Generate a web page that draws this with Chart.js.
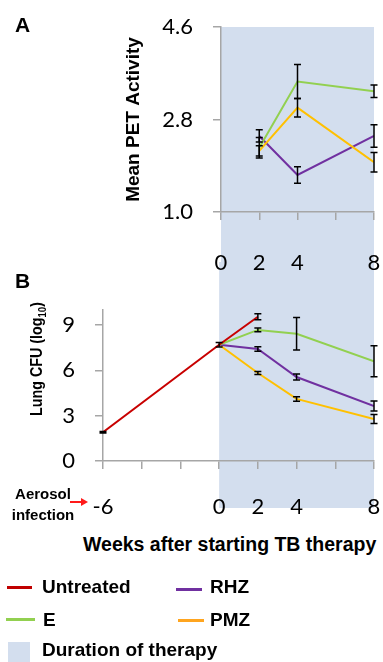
<!DOCTYPE html>
<html>
<head>
<meta charset="utf-8">
<script src="https://cdn.jsdelivr.net/npm/chart.js@4.4.0/dist/chart.umd.min.js"></script>
<style>
  body { margin:0; background:#fff; width:383px; height:662px; overflow:hidden; position:relative; font-family:"Liberation Sans", Arial, sans-serif; }
  canvas { position:absolute; left:0; }
  #chartA { top:0; z-index:2; }
  #chartB { top:262px; z-index:1; }
  .txt { position:absolute; font-weight:bold; color:#000; white-space:nowrap; line-height:1; z-index:3; }
  .key { position:absolute; height:3px; }
</style>
</head>
<body>
<canvas id="chartA" width="383" height="275" style="width:383px;height:275px"></canvas>
<canvas id="chartB" width="383" height="268" style="width:383px;height:268px"></canvas>

<div class="txt" style="left:15px;top:14px;font-size:21px">A</div>
<div class="txt" style="left:15px;top:270px;font-size:21px">B</div>

<div class="txt" style="left:3px;top:483px;width:80px;text-align:center;font-size:15px;line-height:21px">Aerosol<br>infection</div>
<svg style="position:absolute;left:70px;top:497px" width="20" height="10">
  <line x1="0" y1="5" x2="12" y2="5" stroke="#ff1a1a" stroke-width="2"/>
  <polygon points="11,1 18,5 11,9" fill="#ff1a1a"/>
</svg>

<div class="txt" style="left:83px;top:535px;font-size:19.5px">Weeks after starting TB therapy</div>

<div class="key" style="left:7px;top:586px;width:25px;background:#C00000"></div>
<div class="txt" style="left:42px;top:577px;font-size:19px">Untreated</div>
<div class="key" style="left:176px;top:588px;width:26px;background:#7030A0"></div>
<div class="txt" style="left:210px;top:577px;font-size:19px">RHZ</div>
<div class="key" style="left:6px;top:618px;width:29px;background:#92D050"></div>
<div class="txt" style="left:43px;top:610px;font-size:19px">E</div>
<div class="key" style="left:178px;top:619px;width:26px;background:#FFA51F"></div>
<div class="txt" style="left:210px;top:610px;font-size:19px">PMZ</div>
<div class="key" style="left:8px;top:642px;width:22px;height:20px;background:#D3DEEE"></div>
<div class="txt" style="left:42px;top:640px;font-size:19px">Duration of therapy</div>

<script>
// panel A - PET activity
const weeksA = [2, 4, 8];
const petE = [2.25, 3.54, 3.35];
const petE_err = [0.2, 0.33, 0.12];
const petRHZ = [2.48, 1.72, 2.48];
const petRHZ_err = [0.12, 0.16, 0.22];
const petPMZ = [2.19, 3.03, 1.97];
const petPMZ_err = [0.1, 0.18, 0.19];

// panel B - lung CFU
const weeksUntreated = [-6, 0, 2];
const cfuUntreated = [1.9, 7.7, 9.55];
const cfuUntreated_err = [0.05, 0.15, 0.2];
const weeksTreated = [0, 2, 4, 8];
const cfuE = [7.7, 8.68, 8.43, 6.61];
const cfuE_err = [null, 0.12, 1.08, 1.03];
const cfuRHZ = [7.7, 7.42, 5.56, 3.64];
const cfuRHZ_err = [null, 0.15, 0.2, 0.33];
const cfuPMZ = [7.7, 5.83, 4.11, 2.78];
const cfuPMZ_err = [null, 0.1, 0.15, 0.3];

// axes
const ticksA_x = [0, 2, 4, 6, 8];
const labelsA_x = [0, 2, 4, 8];
const ticksA_y = [1.0, 2.8, 4.6];
const ticksB_x = [-6, -4, -2, 0, 2, 4, 6, 8];
const labelsB_x = [-6, 0, 2, 4, 8];
const ticksB_y = [0, 3, 6, 9];
const therapyWeeks = [0, 8];

const RED = '#C80000', GREEN = '#92D050', PURPLE = '#7030A0', YELLOW = '#FFC000';
const SHADE = '#D3DEEE', AXIS = '#A6A6A6';

Chart.defaults.font.family = 'Lato';
Chart.defaults.color = '#000';

function pts(xs, ys) {
  return xs.map((x, i) => ({x: x, y: ys[i]}));
}

function line(label, xs, ys, errs, color) {
  return {
    label: label,
    data: pts(xs, ys),
    errors: errs,
    borderColor: color,
    backgroundColor: color,
    borderWidth: 2,
    pointRadius: 0,
    tension: 0,
    fill: false
  };
}

// shaded block for the weeks of therapy
const therapyBand = {
  id: 'therapy',
  beforeDraw(chart, args, opts) {
    const ctx = chart.ctx, xs = chart.scales.x;
    const x0 = xs.getPixelForValue(therapyWeeks[0]);
    const x1 = xs.getPixelForValue(therapyWeeks[1]);
    const top = opts.fromArea ? chart.chartArea.top : 0;
    const bottom = opts.bottom == null ? chart.height : opts.bottom;
    ctx.save();
    ctx.fillStyle = SHADE;
    ctx.fillRect(x0, top, x1 - x0, bottom - top);
    ctx.restore();
  }
};

const errorBars = {
  id: 'errorBars',
  afterDatasetsDraw(chart) {
    const ctx = chart.ctx, xs = chart.scales.x, ys = chart.scales.y;
    ctx.save();
    ctx.strokeStyle = '#000';
    ctx.lineWidth = 1.5;
    chart.data.datasets.forEach(ds => {
      ds.data.forEach((p, i) => {
        const e = ds.errors[i];
        if (e == null) return;
        const x = xs.getPixelForValue(p.x);
        const y1 = ys.getPixelForValue(p.y + e);
        const y2 = ys.getPixelForValue(p.y - e);
        ctx.beginPath();
        ctx.moveTo(x, y1); ctx.lineTo(x, y2);
        ctx.moveTo(x - 3.5, y1); ctx.lineTo(x + 3.5, y1);
        ctx.moveTo(x - 3.5, y2); ctx.lineTo(x + 3.5, y2);
        ctx.stroke();
      });
    });
    ctx.restore();
  }
};

// y title of panel B, with the subscript (a bit condensed like the original)
const lungTitle = {
  id: 'lungTitle',
  afterDraw(chart) {
    const ctx = chart.ctx;
    const big = 'bold 17px "Liberation Sans", Arial, sans-serif';
    const small = 'bold 11.5px "Liberation Sans", Arial, sans-serif';
    const parts = ['Lung CFU (log', '10', ')'];
    ctx.save();
    ctx.font = big; const w1 = ctx.measureText(parts[0]).width; const w3 = ctx.measureText(parts[2]).width;
    ctx.font = small; const w2 = ctx.measureText(parts[1]).width;
    ctx.translate(42, 97);
    ctx.rotate(-Math.PI / 2);
    ctx.scale(0.84, 1);
    ctx.fillStyle = '#000';
    ctx.textBaseline = 'alphabetic';
    let u = -(w1 + w2 + w3) / 2;
    ctx.font = big; ctx.fillText(parts[0], u, 0); u += w1;
    ctx.font = small; ctx.fillText(parts[1], u, 3.5); u += w2;
    ctx.font = big; ctx.fillText(parts[2], u, 0);
    ctx.restore();
  }
};

function xAxis(min, max, tickVals, labelVals, height, pad) {
  return {
    type: 'linear', min: min, max: max,
    afterBuildTicks: s => { s.ticks = tickVals.map(v => ({value: v})); },
    afterFit: s => { s.height = height; s.paddingLeft = 0; s.paddingRight = 0; },
    ticks: {
      autoSkip: false, maxRotation: 0, padding: pad,
      font: {size: 22},
      callback: v => labelVals.includes(v) ? String(v) : ''
    },
    grid: {drawOnChartArea: false, drawTicks: true, tickLength: 8, color: AXIS, lineWidth: 1.5},
    border: {display: true, color: AXIS, width: 1.5}
  };
}

function yAxis(min, max, tickVals, width, fmt, title) {
  return {
    type: 'linear', min: min, max: max,
    afterBuildTicks: s => { s.ticks = tickVals.map(v => ({value: v})); },
    afterFit: s => { s.width = width; s.paddingTop = 0; s.paddingBottom = 0; },
    ticks: {padding: 20, font: {size: 22}, callback: fmt},
    grid: {drawOnChartArea: false, drawTicks: true, tickLength: 8, color: AXIS, lineWidth: 1.5},
    border: {display: true, color: AXIS, width: 1.5},
    title: title
  };
}

new Chart(document.getElementById('chartA'), {
  type: 'line',
  data: {
    datasets: [
      line('E', weeksA, petE, petE_err, GREEN),
      line('PMZ', weeksA, petPMZ, petPMZ_err, YELLOW),
      line('RHZ', weeksA, petRHZ, petRHZ_err, PURPLE)
    ]
  },
  options: {
    responsive: false,
    animation: false,
    layout: {padding: {left: 122, right: 9, top: 27, bottom: 0}},
    plugins: {legend: {display: false}, tooltip: {enabled: false}, therapy: {fromArea: true}},
    scales: {
      x: xAxis(0, 8, ticksA_x, labelsA_x, 63, 30),
      y: yAxis(1.0, 4.6, ticksA_y, 99, v => v.toFixed(1), {
        display: true, text: 'Mean PET Activity', padding: 0,
        font: {family: '"Liberation Sans", Arial, sans-serif', size: 19, weight: 'bold'}
      })
    }
  },
  plugins: [therapyBand, errorBars]
});

new Chart(document.getElementById('chartB'), {
  type: 'line',
  data: {
    datasets: [
      line('Untreated', weeksUntreated, cfuUntreated, cfuUntreated_err, RED),
      line('E', weeksTreated, cfuE, cfuE_err, GREEN),
      line('RHZ', weeksTreated, cfuRHZ, cfuRHZ_err, PURPLE),
      line('PMZ', weeksTreated, cfuPMZ, cfuPMZ_err, YELLOW)
    ]
  },
  options: {
    responsive: false,
    animation: false,
    layout: {padding: {left: 0, right: 9, top: 48, bottom: 0}},
    plugins: {legend: {display: false}, tooltip: {enabled: false}, therapy: {fromArea: false, bottom: 246}},
    scales: {
      x: xAxis(-6, 8, ticksB_x, labelsB_x, 69, 25),
      y: yAxis(0, 10, ticksB_y, 103, v => String(v), {display: false})
    }
  },
  plugins: [therapyBand, errorBars, lungTitle]
});
</script>
</body>
</html>
